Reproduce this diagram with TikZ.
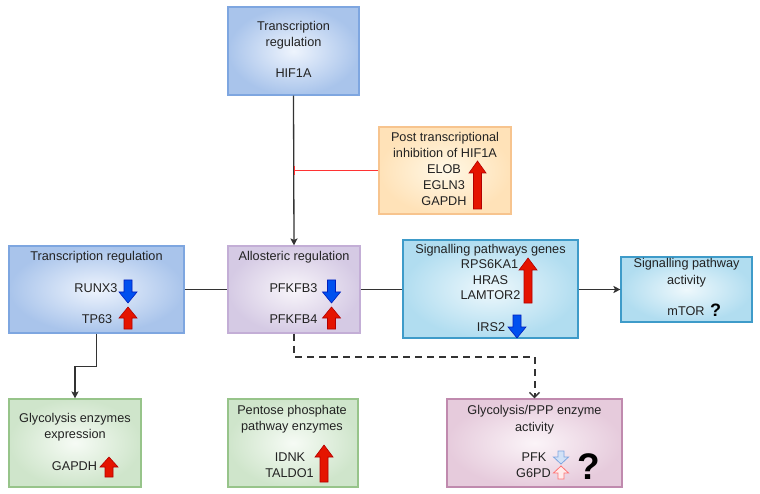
\documentclass[tikz,border=0pt]{standalone}
\usepackage{fontspec}
\setmainfont{Liberation Sans}
\usetikzlibrary{arrows.meta}
\definecolor{textcol}{HTML}{222222}
\definecolor{linecol}{HTML}{333333}
\definecolor{blueout}{HTML}{A9C4EB}
\definecolor{bluein}{HTML}{EEF4FD}
\definecolor{bluestroke}{HTML}{7EA6E0}
\definecolor{purpout}{HTML}{D5CAE4}
\definecolor{purpin}{HTML}{F8F5FA}
\definecolor{purpstroke}{HTML}{C3AED6}
\definecolor{yelout}{HTML}{FFE2B8}
\definecolor{yelin}{HTML}{FFF8E6}
\definecolor{yelstroke}{HTML}{F7C48E}
\definecolor{cyanout}{HTML}{B1DDF0}
\definecolor{cyanin}{HTML}{EEF8FC}
\definecolor{cyanstroke}{HTML}{3E9BC9}
\definecolor{greenout}{HTML}{CFE5CB}
\definecolor{greenin}{HTML}{F6FBF5}
\definecolor{greenstroke}{HTML}{97C48A}
\definecolor{pinkout}{HTML}{E6CBDC}
\definecolor{pinkin}{HTML}{FBF4F8}
\definecolor{pinkstroke}{HTML}{C08AAE}
\definecolor{arrred}{HTML}{E51400}
\definecolor{arrreddark}{HTML}{B20000}
\definecolor{arrblue}{HTML}{0050EF}
\definecolor{arrbluedark}{HTML}{001DBC}
\definecolor{inhred}{HTML}{FF3333}
\newcommand\fatup[7]{\filldraw[#7] (#1,#2) -- ({#1+#4/2},{#2+#5}) -- ({#1+#6/2},{#2+#5}) -- ({#1+#6/2},#3) -- ({#1-#6/2},#3) -- ({#1-#6/2},{#2+#5}) -- ({#1-#4/2},{#2+#5}) -- cycle;}
\newcommand\fatdown[7]{\filldraw[#7] (#1,#3) -- ({#1+#4/2},{#3-#5}) -- ({#1+#6/2},{#3-#5}) -- ({#1+#6/2},#2) -- ({#1-#6/2},#2) -- ({#1-#6/2},{#3-#5}) -- ({#1-#4/2},{#3-#5}) -- cycle;}
\begin{document}
\begin{tikzpicture}[x=1pt,y=-1pt,
  box/.style={rectangle, inner sep=0pt, line width=1.1pt},
  bluebox/.style={box, draw=bluestroke, inner color=bluein, outer color=blueout},
  purpbox/.style={box, draw=purpstroke, inner color=purpin, outer color=purpout},
  yelbox/.style={box, draw=yelstroke, inner color=yelin, outer color=yelout},
  cyanbox/.style={box, draw=cyanstroke, inner color=cyanin, outer color=cyanout},
  greenbox/.style={box, draw=greenstroke, inner color=greenin, outer color=greenout},
  pinkbox/.style={box, draw=pinkstroke, inner color=pinkin, outer color=pinkout},
  txt/.style={inner sep=0pt, anchor=base, text=textcol, font=\fontsize{12.7}{15}\selectfont},
  conn/.style={draw=linecol, line width=1.3pt},
  arr/.style={conn, -{Stealth[length=7pt,width=7pt,inset=1.5pt]}},
  inh/.style={draw=inhred, line width=1.9pt, -{Bar[width=9pt,line width=1.6pt]}},
  dashconn/.style={draw=linecol, line width=2pt, dash pattern=on 7pt off 5pt, -{Straight Barb[length=5pt,width=10pt,line width=1.4pt]}},
  redarr/.style={fill=arrred, draw=arrreddark, line width=0.6pt},
  bluearr/.style={fill=arrblue, draw=arrbluedark, line width=0.6pt},
  hbluearr/.style={fill=bluein!60!blueout, draw=bluestroke, line width=0.8pt},
  hredarr/.style={fill=red!8, draw=red!55, line width=0.8pt}
]
\useasboundingbox (0,0) rectangle (760,494);
\fill[white] (0,0) rectangle (760,494);

% boxes
\node[bluebox, minimum width=131pt, minimum height=88pt] (hif) at (293.5,51) {};
\node[yelbox, minimum width=132pt, minimum height=87pt] (post) at (445,170.5) {};
\node[bluebox, minimum width=175pt, minimum height=87pt] (trl) at (96.5,289.5) {};
\node[purpbox, minimum width=132pt, minimum height=87pt] (allo) at (294,289.5) {};
\node[cyanbox, minimum width=175pt, minimum height=98pt] (sig) at (490.5,289) {};
\node[cyanbox, minimum width=131pt, minimum height=65pt] (act) at (686.5,289.5) {};
\node[greenbox, minimum width=132pt, minimum height=88pt] (gly) at (75,443) {};
\node[greenbox, minimum width=130pt, minimum height=88pt] (ppp) at (293,443) {};
\node[pinkbox, minimum width=175pt, minimum height=88pt] (gpa) at (534.5,443) {};

% connectors
\draw[arr] (hif.south) -- (allo.north);
\draw[inh] (post.west) -- (post.west -| hif.south);
\draw[conn] (trl.east) -- (allo.west);
\draw[conn] (allo.east) -- (allo.east -| sig.west);
\draw[arr] (sig.east |- act.west) -- (act.west);
\draw[arr] (trl.south) -- ++(0,33) -| (gly.north);
\draw[dashconn] (allo.south) -- ++(0,23) -| (gpa.north);

% HIF1A box
\node[txt] (hif1) at (293.5,30.5) {Transcription};
\node[txt] (hif2) at (293.5,47) {regulation};
\node[txt] (hif3) at (293.5,77.5) {HIF1A};

% post transcriptional
\node[txt] (post1) at (445,141.5) {Post transcriptional};
\node[txt] (post2) at (445,157.5) {inhibition of HIF1A};
\node[txt] (post3) at (444,173.5) {ELOB};
\node[txt] (post4) at (444,189.5) {EGLN3};
\node[txt] (post5) at (444,205.5) {GAPDH};
\fatup{477.5}{161}{209}{17}{12}{8}{redarr}

% left transcription regulation
\node[txt] (trl1) at (96.5,260.5) {Transcription regulation};
\node[txt] (trl2) at (96,292.5) {RUNX3};
\node[txt] (trl3) at (97,323.5) {TP63};
\fatdown{128}{280}{303}{18}{11}{8}{bluearr}
\fatup{128}{307}{329}{18}{11}{8}{redarr}

% allosteric
\node[txt] (allo1) at (294,260.5) {Allosteric regulation};
\node[txt] (allo2) at (293.5,292.5) {PFKFB3};
\node[txt] (allo3) at (293.5,323.5) {PFKFB4};
\fatdown{331.5}{280}{303}{18}{11}{8}{bluearr}
\fatup{331.5}{307}{329}{18}{11}{8}{redarr}

% signalling genes
\node[txt] (sig1) at (490.5,253.5) {Signalling pathways genes};
\node[txt] (sig2) at (489.5,268.5) {RPS6KA1};
\node[txt] (sig3) at (490.5,284) {HRAS};
\node[txt] (sig4) at (490.5,299.5) {LAMTOR2};
\node[txt] (sig5) at (491,331.5) {IRS2};
\fatup{528}{258}{303}{18}{12}{8}{redarr}
\fatdown{517}{315}{338}{18}{11}{8}{bluearr}

% signalling activity
\node[txt] (act1) at (686.5,267.5) {Signalling pathway};
\node[txt] (act2) at (686.5,284.5) {activity};
\node[txt] (act3) at (686,315.5) {mTOR};
\node[txt, text=black, font=\fontsize{18}{20}\selectfont\bfseries] (act4) at (715.5,316.5) {?};

% glycolysis enzymes expression
\node[txt] (gly1) at (75,422.5) {Glycolysis enzymes};
\node[txt] (gly2) at (75,438.5) {expression};
\node[txt] (gly3) at (74.5,470.5) {GAPDH};
\fatup{109}{457}{477}{18}{10}{8}{redarr}

% pentose phosphate
\node[txt] (ppp1) at (292,414.5) {Pentose phosphate};
\node[txt] (ppp2) at (292,430.5) {pathway enzymes};
\node[txt] (ppp3) at (290,461.5) {IDNK};
\node[txt] (ppp4) at (289.5,477.5) {TALDO1};
\fatup{324}{445}{482}{18}{12}{8}{redarr}

% glycolysis/PPP activity
\node[txt] (gpa1) at (534.5,414.5) {Glycolysis/PPP enzyme};
\node[txt] (gpa2) at (534.5,431) {activity};
\node[txt] (gpa3) at (534,461.5) {PFK};
\node[txt] (gpa4) at (533.5,477.5) {G6PD};
\fatdown{561}{451}{464}{15}{7}{6}{hbluearr}
\fatup{561}{466}{479}{15}{7}{6}{hredarr}
\node[txt, text=black, font=\fontsize{37}{40}\selectfont\bfseries] (gpa5) at (588.5,479) {?};
\end{tikzpicture}
\end{document}
